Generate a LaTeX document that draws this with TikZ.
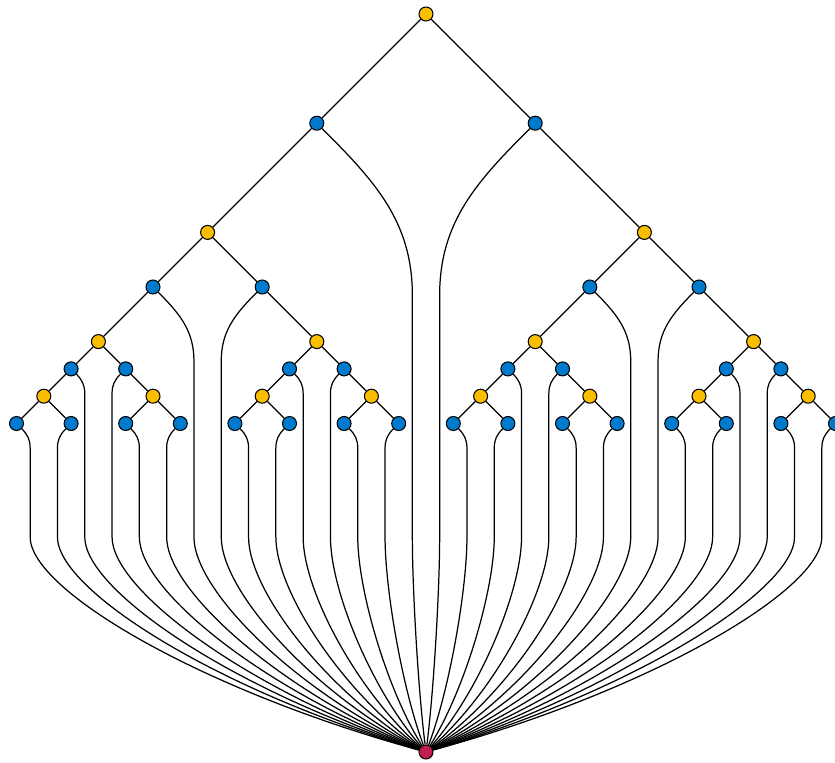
\documentclass[tikz,border=0pt]{standalone}
\usepackage{tikz}
\usetikzlibrary{calc}
\definecolor{nodeyellow}{RGB}{250,190,0}
\definecolor{nodeblue}{RGB}{0,122,204}
\definecolor{sinkred}{RGB}{196,30,78}
\tikzset{
    vert/.style={circle, draw, line width=0.6pt, minimum size=0.28cm, inner sep=0pt},
    ynode/.style={vert, fill=nodeyellow},
    bnode/.style={vert, fill=nodeblue},
    snode/.style={vert, fill=sinkred},
    wire/.style={line width=0.7pt}
}
\begin{document}
\begin{tikzpicture}[x=0.02cm, y=0.02cm]
        \useasboundingbox (0,0) rectangle (835,762);

        % Root and sink
        \node[ynode] (Y) at (426,748) {};
        \node[snode] (S) at (426,10) {};

        % First split
        \node[bnode] (B0) at ($(Y)+(-109.2,-109.2)$) {};
        \node[bnode] (B1) at ($(Y)+(109.2,-109.2)$) {};
        \node[ynode] (Y0) at ($(B0)+(-109.2,-109.2)$) {};
        \node[ynode] (Y1) at ($(B1)+(109.2,-109.2)$) {};
        \draw[wire] (Y) -- (B0) (Y) -- (B1) (B0) -- (Y0) (B1) -- (Y1);

        % Second split
        \foreach \w in {0,1} {
            \node[bnode] (B\w0) at ($(Y\w)+(-54.6,-54.6)$) {};
            \node[bnode] (B\w1) at ($(Y\w)+(54.6,-54.6)$) {};
            \node[ynode] (Y\w0) at ($(B\w0)+(-54.6,-54.6)$) {};
            \node[ynode] (Y\w1) at ($(B\w1)+(54.6,-54.6)$) {};
            \draw[wire] (Y\w) -- (B\w0) (Y\w) -- (B\w1) (B\w0) -- (Y\w0) (B\w1) -- (Y\w1);
        }

        % Third split
        \foreach \w in {00,01,10,11} {
            \node[bnode] (B\w0) at ($(Y\w)+(-27.3,-27.3)$) {};
            \node[bnode] (B\w1) at ($(Y\w)+(27.3,-27.3)$) {};
            \node[ynode] (Y\w0) at ($(B\w0)+(-27.3,-27.3)$) {};
            \node[ynode] (Y\w1) at ($(B\w1)+(27.3,-27.3)$) {};
            \draw[wire] (Y\w) -- (B\w0) (Y\w) -- (B\w1) (B\w0) -- (Y\w0) (B\w1) -- (Y\w1);
        }

        % Leaves
        \foreach \w in {000,001,010,011,100,101,110,111} {
            \node[bnode] (B\w0) at ($(Y\w)+(-27.3,-27.3)$) {};
            \node[bnode] (B\w1) at ($(Y\w)+(27.3,-27.3)$) {};
            \draw[wire] (Y\w) -- (B\w0) (Y\w) -- (B\w1);
        }

        % Every blue node runs down its own lane into the sink
        \foreach \w/\o/\s in {0/-45/1, 1/-135/-1}
            \draw[wire] (B\w) to[out=\o, in=90] ++(\s*95.55,-172) coordinate (L\w)
                -- (L\w |- 0,225) .. controls (L\w |- 0,172) and ($(426,72)!0.57!(L\w |- 0,72)$) .. (S);
        \foreach \p in {0,1}
            \foreach \c/\o/\s in {0/-45/1, 1/-135/-1}
                \draw[wire] (B\p\c) to[out=\o, in=90] ++(\s*40.95,-74) coordinate (L\p\c)
                    -- (L\p\c |- 0,225) .. controls (L\p\c |- 0,172) and ($(426,72)!0.57!(L\p\c |- 0,72)$) .. (S);
        \foreach \p in {00,01,10,11,000,001,010,011,100,101,110,111}
            \foreach \c/\o/\s in {0/-45/1, 1/-135/-1}
                \draw[wire] (B\p\c) to[out=\o, in=90] ++(\s*13.65,-24.6) coordinate (L\p\c)
                    -- (L\p\c |- 0,225) .. controls (L\p\c |- 0,172) and ($(426,72)!0.57!(L\p\c |- 0,72)$) .. (S);
    \end{tikzpicture}
\end{document}
